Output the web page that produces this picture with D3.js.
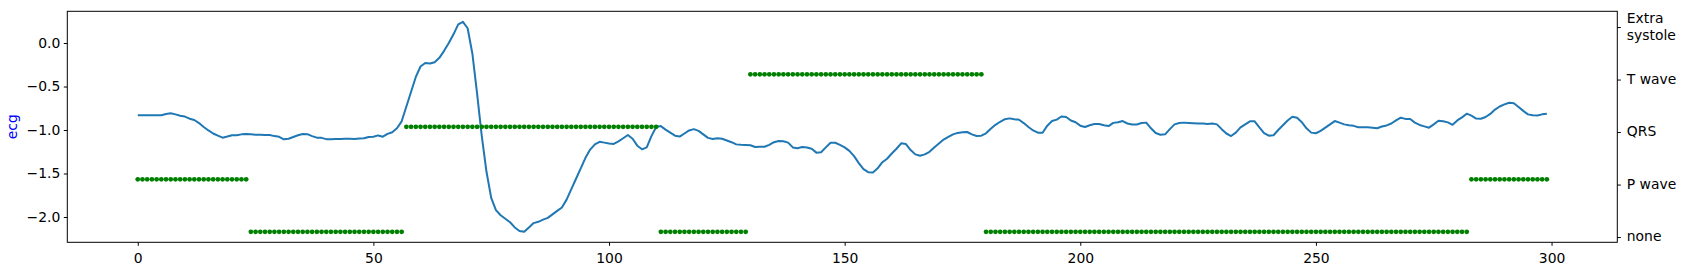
<!DOCTYPE html>
<html lang="en">
<head>
<meta charset="UTF-8">
<title>ECG with wave labels</title>
<script src="https://d3js.org/d3.v7.min.js"></script>
<style>
    body, html { margin: 0; padding: 0; background: #ffffff; }
    svg text { font-family: "DejaVu Sans", sans-serif; font-size: 13.9px; fill: #000; }
</style>
</head>
<body>
<div id="chart"></div>
<script>
// ecg signal, one value per sample
var ecg = [
  -0.831,-0.831,-0.831,-0.831,-0.831,-0.830,-0.815,-0.808,-0.820,-0.835,
  -0.845,-0.870,-0.885,-0.920,-0.965,-1.005,-1.040,-1.065,-1.088,-1.075,
  -1.060,-1.060,-1.050,-1.046,-1.050,-1.055,-1.055,-1.056,-1.058,-1.070,
  -1.078,-1.107,-1.100,-1.080,-1.060,-1.046,-1.048,-1.070,-1.088,-1.090,
  -1.105,-1.105,-1.103,-1.103,-1.100,-1.100,-1.102,-1.097,-1.095,-1.080,
  -1.078,-1.062,-1.077,-1.045,-1.025,-0.980,-0.900,-0.730,-0.560,-0.390,
  -0.270,-0.230,-0.235,-0.220,-0.170,-0.090,0.000,0.100,0.215,0.244,
  0.170,-0.120,-0.580,-1.070,-1.480,-1.780,-1.920,-1.980,-2.020,-2.060,
  -2.120,-2.160,-2.170,-2.120,-2.070,-2.055,-2.030,-2.010,-1.970,-1.930,
  -1.890,-1.800,-1.680,-1.560,-1.440,-1.320,-1.225,-1.165,-1.135,-1.145,
  -1.155,-1.160,-1.130,-1.095,-1.057,-1.100,-1.180,-1.222,-1.199,-1.070,
  -0.965,-0.955,-0.995,-1.030,-1.065,-1.075,-1.040,-1.005,-0.990,-1.010,
  -1.050,-1.090,-1.103,-1.095,-1.100,-1.120,-1.140,-1.165,-1.170,-1.172,
  -1.175,-1.195,-1.192,-1.192,-1.170,-1.140,-1.126,-1.130,-1.145,-1.200,
  -1.210,-1.195,-1.200,-1.215,-1.260,-1.255,-1.200,-1.146,-1.146,-1.170,
  -1.199,-1.240,-1.300,-1.380,-1.450,-1.485,-1.488,-1.440,-1.370,-1.330,
  -1.270,-1.215,-1.153,-1.161,-1.230,-1.280,-1.295,-1.280,-1.250,-1.200,
  -1.155,-1.110,-1.080,-1.050,-1.033,-1.025,-1.023,-1.050,-1.068,-1.065,
  -1.038,-0.985,-0.940,-0.905,-0.875,-0.866,-0.875,-0.882,-0.920,-0.965,
  -1.005,-1.030,-1.031,-0.950,-0.897,-0.880,-0.845,-0.850,-0.890,-0.910,
  -0.950,-0.965,-0.945,-0.930,-0.930,-0.945,-0.955,-0.918,-0.910,-0.897,
  -0.925,-0.937,-0.936,-0.920,-0.915,-0.980,-1.035,-1.055,-1.050,-0.990,
  -0.935,-0.920,-0.915,-0.918,-0.922,-0.925,-0.925,-0.930,-0.925,-0.935,
  -0.990,-1.040,-1.069,-1.030,-0.970,-0.935,-0.900,-0.900,-0.970,-1.035,
  -1.065,-1.060,-1.000,-0.945,-0.890,-0.848,-0.860,-0.910,-0.980,-1.030,
  -1.037,-1.010,-0.973,-0.935,-0.897,-0.915,-0.935,-0.945,-0.952,-0.968,
  -0.969,-0.969,-0.975,-0.980,-0.960,-0.947,-0.925,-0.890,-0.858,-0.872,
  -0.874,-0.915,-0.942,-0.958,-0.973,-0.935,-0.893,-0.900,-0.912,-0.940,
  -0.890,-0.855,-0.812,-0.835,-0.868,-0.870,-0.850,-0.815,-0.765,-0.730,
  -0.705,-0.686,-0.692,-0.735,-0.780,-0.820,-0.830,-0.832,-0.820,-0.812
];

// wave label per sample: 0 none, 1 P wave, 2 QRS, 3 T wave, 4 extra systole
var labels = [
  1,1,1,1,1,1,1,1,1,1, 1,1,1,1,1,1,1,1,1,1, 1,1,1,1,0,0,0,0,0,0, 0,0,0,0,0,0,0,0,0,0, 0,0,0,0,0,0,0,0,0,0,
  0,0,0,0,0,0,0,2,2,2, 2,2,2,2,2,2,2,2,2,2, 2,2,2,2,2,2,2,2,2,2, 2,2,2,2,2,2,2,2,2,2, 2,2,2,2,2,2,2,2,2,2,
  2,2,2,2,2,2,2,2,2,2, 2,0,0,0,0,0,0,0,0,0, 0,0,0,0,0,0,0,0,0,0, 3,3,3,3,3,3,3,3,3,3, 3,3,3,3,3,3,3,3,3,3,
  3,3,3,3,3,3,3,3,3,3, 3,3,3,3,3,3,3,3,3,3, 3,3,3,3,3,3,3,3,3,3, 0,0,0,0,0,0,0,0,0,0, 0,0,0,0,0,0,0,0,0,0,
  0,0,0,0,0,0,0,0,0,0, 0,0,0,0,0,0,0,0,0,0, 0,0,0,0,0,0,0,0,0,0, 0,0,0,0,0,0,0,0,0,0, 0,0,0,0,0,0,0,0,0,0,
  0,0,0,0,0,0,0,0,0,0, 0,0,0,0,0,0,0,0,0,0, 0,0,0,0,0,0,0,0,0,0, 0,0,0,1,1,1,1,1,1,1, 1,1,1,1,1,1,1,1,1,1
];

var labelNames = ["none", "P wave", "QRS", "T wave", "Extra\nsystole"];
var xTicks = [0, 50, 100, 150, 200, 250, 300];
var yTicks = [0.0, -0.5, -1.0, -1.5, -2.0];

// figure layout (pixels)
var W = 1686, H = 275;
var margin = {top: 11.3, right: 68.7, bottom: 32.7, left: 67.3};
var width = W - margin.left - margin.right,
    height = H - margin.top - margin.bottom;

var svg = d3.select("#chart").append("svg")
    .attr("width", W)
    .attr("height", H);

var g = svg.append("g")
    .attr("transform", "translate(" + margin.left + "," + margin.top + ")");

// x: sample index, with 5% padding like matplotlib
var n = ecg.length;
var xPad = (n - 1) * 0.05;
var x = d3.scaleLinear()
    .domain([-xPad, n - 1 + xPad])
    .range([0, width]);

var yMin = d3.min(ecg), yMax = d3.max(ecg);
var yRange = yMax - yMin;
var y = d3.scaleLinear()
    .domain([yMin - 0.05 * yRange, yMax + 0.05 * yRange])
    .range([height, 0]);

// right axis for the wave labels
var yRight = d3.scaleLinear()
    .domain([-0.1, 4.3])
    .range([height, 0]);

// X axis
var xAxis = g.append("g")
    .attr("transform", "translate(0," + height + ")")
    .call(d3.axisBottom(x).tickValues(xTicks).tickSize(3.5).tickPadding(3.5).tickSizeOuter(0));
xAxis.select(".domain").remove();
xAxis.selectAll("text").attr("dy", "0.99em");

// Left Y axis
var yAxis = g.append("g")
    .call(d3.axisLeft(y).tickValues(yTicks).tickSize(3.5).tickPadding(3.5).tickSizeOuter(0)
        .tickFormat(function(d) { return d3.format(".1f")(d).replace("-", "\u2212"); }));
yAxis.select(".domain").remove();

// Right Y axis (labels drawn by hand for the two-line one)
var rAxis = g.append("g")
    .attr("transform", "translate(" + width + ",0)")
    .call(d3.axisRight(yRight).tickValues(d3.range(labelNames.length)).tickSize(3.5).tickSizeOuter(0).tickFormat(""));
rAxis.select(".domain").remove();

labelNames.forEach(function(name, k) {
    var lines = name.split("\n");
    var t = g.append("text")
        .attr("x", width + 9.5)
        .attr("y", yRight(k));
    lines.forEach(function(line, j) {
        t.append("tspan")
            .attr("x", width + 9.5)
            .attr("dy", j === 0 ? ((0.32 - (lines.length - 1) * 0.6) + "em") : "1.2em")
            .text(line);
    });
});

[xAxis, yAxis, rAxis].forEach(function(a) {
    a.attr("font-family", null).attr("font-size", null);
    a.selectAll("line").attr("stroke", "#000").attr("stroke-width", 1);
});

// y label
g.append("text")
    .attr("transform", "rotate(-90)")
    .attr("x", -height / 2)
    .attr("y", 11.7 - margin.left)
    .attr("dy", "0.35em")
    .style("text-anchor", "middle")
    .style("fill", "blue")
    .text("ecg");

// ecg line
var line = d3.line()
    .x(function(d, i) { return x(i); })
    .y(function(d) { return y(d); });

g.append("path")
    .datum(ecg)
    .attr("fill", "none")
    .attr("stroke", "#1f77b4")
    .attr("stroke-width", 2)
    .attr("stroke-linejoin", "round")
    .attr("d", line);

// wave labels as green dots, scaled into the ecg range
g.selectAll("circle.lab")
    .data(labels)
    .enter().append("circle")
    .attr("class", "lab")
    .attr("cx", function(d, i) { return x(i); })
    .attr("cy", function(d) { return y(yMin + d * yRange / 4); })
    .attr("r", 2.4)
    .attr("fill", "green");

// frame
g.append("rect")
    .attr("width", width)
    .attr("height", height)
    .attr("fill", "none")
    .attr("stroke", "#000")
    .attr("stroke-width", 1);
</script>
</body>
</html>
